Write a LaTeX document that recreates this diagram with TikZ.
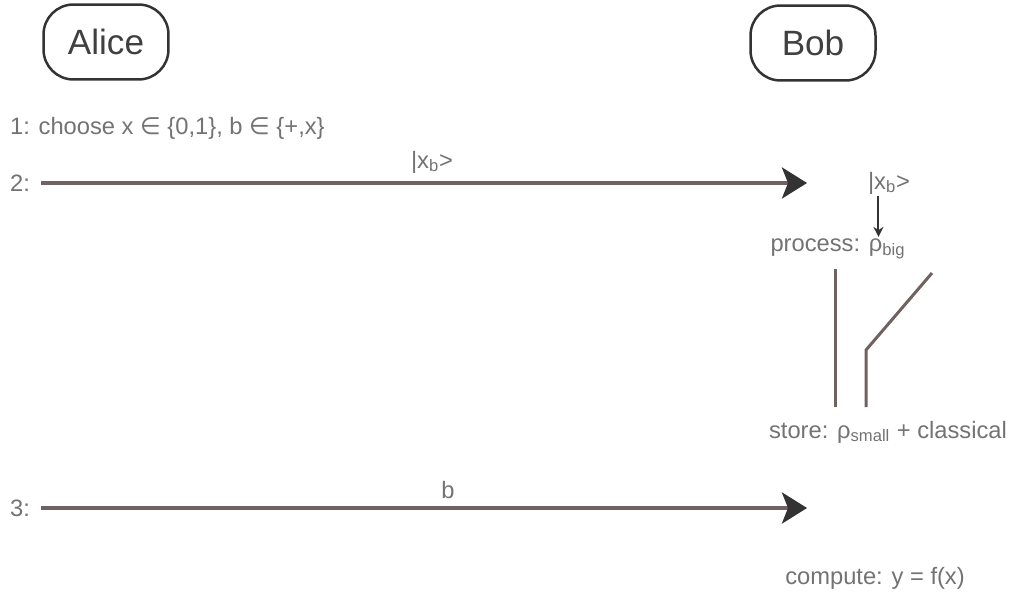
\documentclass[tikz,border=0pt]{standalone}
\usepackage{fontspec}
\setmainfont{Liberation Sans}
\newfontfamily\symfont{DejaVu Sans}
\usepackage{tikz}
\usetikzlibrary{arrows.meta,positioning}
\definecolor{wire}{RGB}{112,98,96}
\newcommand{\elem}{{\symfont ∈}}
\tikzset{
	party/.style={draw=black!80, line width=0.5mm, rounded corners=0.6cm, minimum width=2.5cm, minimum height=1.5cm, font=\fontsize{20}{24}\selectfont, text=black!75},
	txt/.style={font=\fontsize{13.5}{16}\selectfont, text=black!55, inner sep=1pt},
	msg/.style={line width=0.8mm, color=wire, -{Stealth[length=0.5cm, width=0.62cm, inset=0.12cm, color=black!80]}},
	store/.style={line width=0.6mm, color=wire}
}

\begin{document}
\begin{tikzpicture}[x=0.02cm, y=-0.02cm]
			%%%%% START %%%%%
			\useasboundingbox (0, 0) rectangle (1013, 595);
			
			\node[party] (alice) at (106, 42) {Alice};
			\node[party] (bob) at (813, 43) {Bob};
			
			\node[txt, anchor=west] (step1) at (8, 128) {1: choose x \elem{} \{0,1\}, b \elem{} \{+,x\}};
			
			\node[txt, anchor=west] (step2) at (8, 183) {2:};
			\coordinate (m1end) at (807, 183);
			\draw[msg] ([xshift=5pt]step2.east) -- (m1end);
			\node[txt] (m1lbl) at (432, 162) {|x\textsubscript{b}>};
			
			\node[txt] (qstate) at (889, 183) {|x\textsubscript{b}>};
			\node[txt] (process) at (838, 249) {process: ρ\textsubscript{big}};
			\draw[line width=0.4mm, color=black!80, -{Stealth[length=2mm, width=2mm]}] ([xshift=-6pt]qstate.south) -- ([xshift=-6pt]qstate.south |- process.north);
			
			\node[txt] (storage) at (888, 432) {store: ρ\textsubscript{small} + classical};
			\draw[store] (835, 269) -- (835, 407);
			\draw[store] (866, 407) -- (866, 350) -- (932, 273);
			
			\node[txt, anchor=west] (step3) at (8, 508) {3:};
			\coordinate (m2end) at (807, 508);
			\draw[msg] ([xshift=5pt]step3.east) -- (m2end);
			\node[txt] (m2lbl) at (448, 490) {b};
			
			\node[txt] (compute) at (875, 578) {compute: y = f(x)};
			%%%%% END %%%%%
\end{tikzpicture}
\end{document}
